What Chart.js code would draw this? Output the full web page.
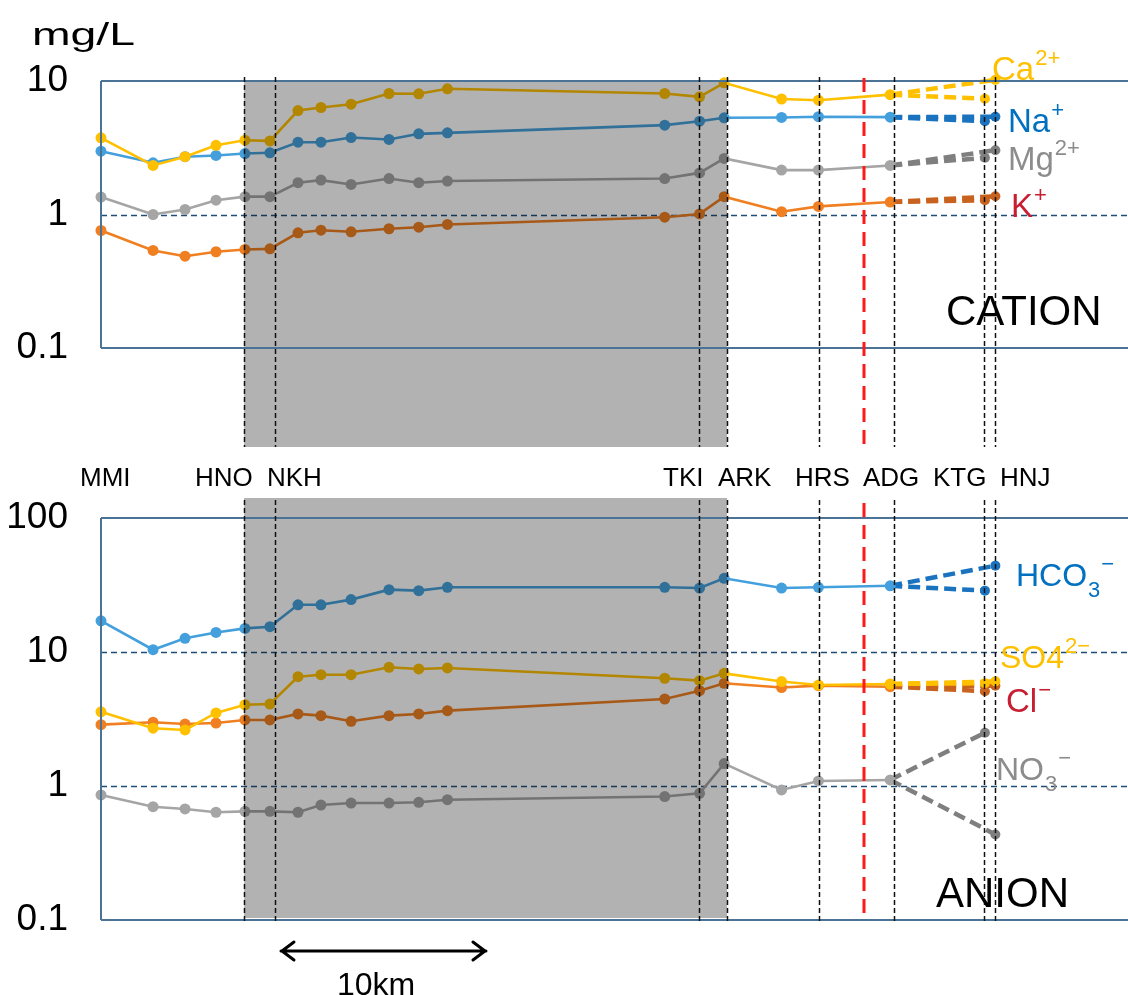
<!DOCTYPE html>
<html><head><meta charset="utf-8">
<script src="https://cdn.jsdelivr.net/npm/chart.js@4.4.1/dist/chart.umd.min.js"></script>
<style>
html,body{margin:0;padding:0;background:#fff;width:1128px;height:995px;overflow:hidden;}
#c1{position:absolute;left:0;top:0;}
#c2{position:absolute;left:0;top:450px;}
</style></head><body>
<canvas id="c1" width="1128" height="450"></canvas>
<canvas id="c2" width="1128" height="545"></canvas>
<script>
// ---------- DATA ----------
// distance along river (km) of each sampling point (main line, up to ADG)
const stationKm = [0, 2.54, 4.10, 5.61, 7.02, 8.24, 9.61, 10.73, 12.2, 14.05, 15.5, 16.9, 27.5, 29.2, 30.4, 33.2, 35.0, 38.5];
// branch end points (km): KTG, HNJ
const branchKm = [43.12, 43.63];
// station names and marker line positions (km)
const stationNames = ['MMI', 'HNO', 'NKH', 'TKI', 'ARK', 'HRS', 'ADG', 'KTG', 'HNJ'];
const markerKm = [6.98, 8.49, 29.17, 30.54, 35.02, 38.68, 43.07, 43.61];
const boundaryKm = 37.22;
const shadeKm = [6.98, 30.54];
const scaleBarKm = [8.78, 18.78];

// cations (mg/L)
const ca = [3.75, 2.33, 2.71, 3.30, 3.60, 3.56, 6.01, 6.33, 6.70, 8.06, 8.02, 8.74, 8.06, 7.61, 9.69, 7.33, 7.18, 7.90];
const caEnd = [7.36, 10.2];
const na = [2.98, 2.44, 2.71, 2.77, 2.86, 2.90, 3.48, 3.48, 3.77, 3.65, 4.02, 4.09, 4.67, 5.00, 5.30, 5.33, 5.40, 5.36];
const naEnd = [5.00, 5.40];
const mg = [1.35, 1.00, 1.09, 1.28, 1.36, 1.36, 1.73, 1.81, 1.68, 1.86, 1.73, 1.78, 1.86, 2.05, 2.63, 2.15, 2.15, 2.33];
const mgEnd = [2.66, 3.03];
const k = [0.759, 0.538, 0.487, 0.526, 0.547, 0.553, 0.729, 0.763, 0.742, 0.782, 0.803, 0.842, 0.954, 1.01, 1.36, 1.05, 1.15, 1.24];
const kEnd = [1.28, 1.37];

// anions (mg/L)
const hco3 = [17.1, 10.4, 12.65, 14.0, 15.0, 15.45, 22.5, 22.5, 24.6, 29.2, 28.7, 30.4, 30.4, 30.0, 35.5, 30.0, 30.4, 31.2];
const hco3End = [28.7, 44.1];
const so4 = [3.58, 2.70, 2.62, 3.51, 4.04, 4.09, 6.54, 6.77, 6.77, 7.69, 7.47, 7.60, 6.37, 6.11, 6.93, 6.02, 5.67, 5.77];
const so4End = [5.85, 6.04];
const cl = [2.87, 2.99, 2.90, 2.95, 3.11, 3.11, 3.45, 3.35, 3.04, 3.35, 3.45, 3.65, 4.46, 5.14, 5.84, 5.43, 5.61, 5.51];
const clEnd = [5.10, 5.60];
const no3 = [0.857, 0.701, 0.674, 0.637, 0.647, 0.647, 0.637, 0.721, 0.746, 0.746, 0.756, 0.790, 0.834, 0.882, 1.47, 0.935, 1.09, 1.11];
const no3End = [2.50, 0.435];

const topTicks = [0.1, 1, 10];
const bottomTicks = [0.1, 1, 10, 100];

// ---------- STYLE ----------
const FONT = "'Liberation Sans', Arial, sans-serif";
const LIGHT = {yellow:'#FFC000', blue:'#44A0DC', gray:'#A5A5A5', orange:'#F07F22'};
const DARK = {yellow:'#FFC000', blue:'#1A73BE', gray:'#7F7F7F', orange:'#C8621E'};

function solid(vals, color){
  return {data: stationKm.map((x,i)=>({x:x, y:vals[i]})), borderColor:color, backgroundColor:color,
    pointBackgroundColor:color, pointBorderWidth:0, pointRadius:5.5, borderWidth:2.6, tension:0, clip:false};
}
function branch(v0, v1, x1, color){
  return {data:[{x:stationKm[stationKm.length-1], y:v0},{x:x1, y:v1}], borderColor:color, backgroundColor:color,
    pointBackgroundColor:color, pointBorderWidth:0, pointRadius:[0,5], borderWidth:4.5, borderDash:[12,6], tension:0, clip:false};
}
function ionSets(vals, end, light, dark){
  const last = vals[vals.length-1];
  return [solid(vals, light), branch(last, end[0], branchKm[0], dark), branch(last, end[1], branchKm[1], dark)];
}

function txt(ctx, s, x, y, size, color, align){
  ctx.font = size + 'px ' + FONT; ctx.fillStyle = color; ctx.textAlign = align || 'left'; ctx.textBaseline = 'alphabetic';
  ctx.fillText(s, x, y);
  return x + ctx.measureText(s).width;
}
// label with optional subscript and superscript
function ionLabel(ctx, base, sub, sup, x, y, color, size){
  let e = txt(ctx, base, x, y, size, color);
  let s = e;
  if (sub) s = txt(ctx, sub, e + 1, y + 11, 22, color);
  if (sup) txt(ctx, sup, (sub ? s : e) + 1, y - 15, 22, color);
}

function panelPlugin(o){
  return {
    id: 'panel_' + o.name,
    beforeDatasetsDraw(chart){
      const ctx = chart.ctx, a = chart.chartArea, ys = chart.scales.y;
      ctx.save();
      ctx.strokeStyle = '#1F4E79'; ctx.lineWidth = 1.3; ctx.setLineDash([6,4]);
      o.grid.forEach(v=>{ const y = Math.round(ys.getPixelForValue(v))+0.5; ctx.beginPath(); ctx.moveTo(a.left, y); ctx.lineTo(chart.width, y); ctx.stroke(); });
      ctx.restore();
    },
    afterDatasetsDraw(chart){
      const ctx = chart.ctx, a = chart.chartArea, xs = chart.scales.x;
      ctx.save();
      // shaded zone (multiply so that lines underneath darken)
      const sx0 = xs.getPixelForValue(shadeKm[0]), sx1 = xs.getPixelForValue(shadeKm[1]);
      ctx.globalCompositeOperation = 'multiply';
      ctx.fillStyle = '#B2B2B2';
      ctx.fillRect(sx0, o.shadeTop, sx1 - sx0, o.shadeBottom - o.shadeTop);
      ctx.globalCompositeOperation = 'source-over';
      // frame
      ctx.strokeStyle = '#4A7396'; ctx.lineWidth = 2; ctx.setLineDash([]);
      ctx.beginPath();
      ctx.moveTo(a.left, a.top); ctx.lineTo(chart.width, a.top);
      ctx.moveTo(a.left, a.bottom); ctx.lineTo(chart.width, a.bottom);
      ctx.moveTo(a.left, a.top); ctx.lineTo(a.left, a.bottom);
      ctx.stroke();
      // station marker lines
      ctx.strokeStyle = '#111'; ctx.lineWidth = 1.5; ctx.setLineDash([5,3]);
      markerKm.forEach(km=>{ const x = Math.round(xs.getPixelForValue(km))+0.5; ctx.beginPath(); ctx.moveTo(x, o.vTop); ctx.lineTo(x, o.vBottom); ctx.stroke(); });
      // boundary line
      ctx.strokeStyle = '#FF1A1A'; ctx.lineWidth = 3; ctx.setLineDash([14,8]);
      const rx = Math.round(xs.getPixelForValue(boundaryKm));
      ctx.beginPath(); ctx.moveTo(rx, o.rTop); ctx.lineTo(rx, o.rBottom); ctx.stroke();
      ctx.setLineDash([]);
      o.texts(ctx, chart);
      ctx.restore();
    }
  };
}

function yAxis(max, ticks){
  return {type:'logarithmic', min:0.1, max:max,
    afterBuildTicks: s=>{ s.ticks = ticks.map(v=>({value:v})); },
    afterFit: s=>{ s.width = 101; },
    grid:{display:false, drawTicks:false}, border:{display:false},
    ticks:{color:'#000', padding:33, font:{family:FONT, size:37}, callback: v=>String(v)}};
}

function makeChart(id, datasets, yMax, ticks, pad, plugin){
  return new Chart(document.getElementById(id), {
    type:'line',
    data:{datasets:datasets},
    options:{responsive:false, animation:false, events:[], devicePixelRatio:1,
      layout:{padding:pad, autoPadding:false},
      plugins:{legend:{display:false}, tooltip:{enabled:false}},
      scales:{x:{type:'linear', min:0, max:50.1, display:false}, y:yAxis(yMax, ticks)}},
    plugins:[plugin]
  });
}

// ---------- TOP: CATION ----------
const topSets = [].concat(
  ionSets(ca, caEnd, LIGHT.yellow, DARK.yellow),
  ionSets(na, naEnd, LIGHT.blue, DARK.blue),
  ionSets(mg, mgEnd, LIGHT.gray, DARK.gray),
  ionSets(k, kEnd, LIGHT.orange, DARK.orange)
);
makeChart('c1', topSets, 10, topTicks, {top:81, bottom:102, left:0, right:0}, panelPlugin({
  name:'cation', grid:[1], shadeTop:81, shadeBottom:447, vTop:77, vBottom:447, rTop:78, rBottom:447,
  texts(ctx){
    // unit label, stretched horizontally like the original wide font
    ctx.save();
    ctx.font = '32px ' + FONT;
    const w = ctx.measureText('mg/L').width;
    ctx.translate(32, 45); ctx.scale(103 / w, 1);
    txt(ctx, 'mg/L', 0, 0, 32, '#000');
    ctx.restore();
    txt(ctx, 'CATION', 946, 325, 42, '#000');
    ionLabel(ctx, 'Ca', '', '2+', 992, 80, '#FFC000', 33);
    ionLabel(ctx, 'Na', '', '+', 1008, 132, '#0070C0', 33);
    ionLabel(ctx, 'Mg', '', '2+', 1008, 170, '#8C8C8C', 33);
    ionLabel(ctx, 'K', '', '+', 1011, 217, '#C81E32', 33);
  }
}));

// ---------- BOTTOM: ANION ----------
const botSets = [].concat(
  ionSets(hco3, hco3End, LIGHT.blue, DARK.blue),
  ionSets(so4, so4End, LIGHT.yellow, DARK.yellow),
  ionSets(cl, clEnd, LIGHT.orange, DARK.orange),
  ionSets(no3, no3End, LIGHT.gray, DARK.gray)
);
const labelPx = [80, 195, 267, 663, 718, 795, 863, 933, 1000];
makeChart('c2', botSets, 100, bottomTicks, {top:68, bottom:75, left:0, right:0}, panelPlugin({
  name:'anion', grid:[1,10], shadeTop:48, shadeBottom:468, vTop:50, vBottom:472, rTop:53, rBottom:469,
  texts(ctx, chart){
    stationNames.forEach((n,i)=> txt(ctx, n, labelPx[i], 36, 26, '#000'));
    txt(ctx, 'ANION', 936, 457, 42, '#000');
    ionLabel(ctx, 'HCO', '3', '\u2212', 1016, 136, '#0070C0', 32);
    ionLabel(ctx, 'SO4', '', '2\u2212', 1000, 218, '#FFC000', 32);
    ionLabel(ctx, 'Cl', '', '\u2212', 1006, 262, '#C81E32', 33);
    ionLabel(ctx, 'NO', '3', '\u2212', 996, 330, '#8C8C8C', 32);
    // 10 km scale bar
    const xs = chart.scales.x;
    const x0 = xs.getPixelForValue(scaleBarKm[0]), x1 = xs.getPixelForValue(scaleBarKm[1]), y = 501;
    ctx.strokeStyle = '#000'; ctx.lineWidth = 3; ctx.lineCap = 'round'; ctx.lineJoin = 'round';
    ctx.beginPath(); ctx.moveTo(x0, y); ctx.lineTo(x1, y);
    ctx.moveTo(x0+13, y-9); ctx.lineTo(x0+1, y); ctx.lineTo(x0+13, y+9);
    ctx.moveTo(x1-13, y-9); ctx.lineTo(x1-1, y); ctx.lineTo(x1-13, y+9);
    ctx.stroke();
    txt(ctx, '10km', 376, 545, 32, '#000', 'center');
  }
}));
</script>
</body></html>
